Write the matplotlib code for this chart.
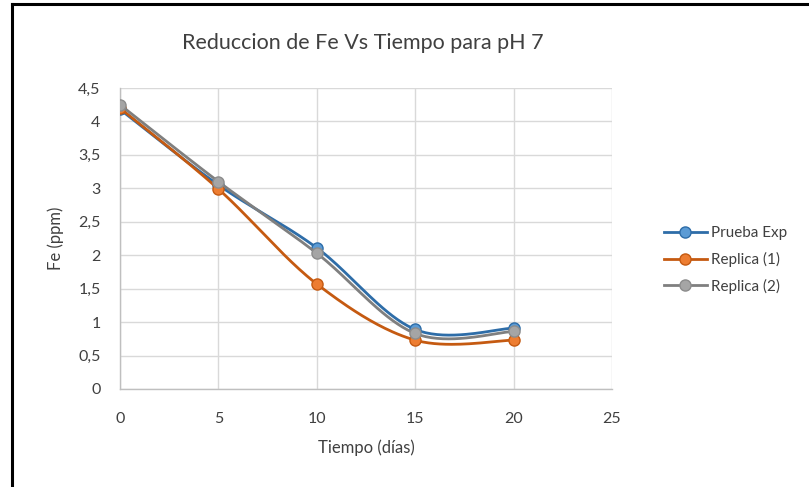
import numpy as np
import matplotlib
matplotlib.use("Agg")
import matplotlib.pyplot as plt
from matplotlib.lines import Line2D

plt.rcParams['font.family'] = ['Lato', 'DejaVu Sans']

tiempo = [0, 5, 10, 15, 20]
prueba_exp = [4.18, 3.05, 2.11, 0.89, 0.91]
replica_1 = [4.20, 2.99, 1.57, 0.73, 0.73]
replica_2 = [4.25, 3.10, 2.03, 0.83, 0.86]
series_names = ["Prueba Exp", "Replica (1)", "Replica (2)"]
x_ticks = [0, 5, 10, 15, 20, 25]
y_ticks = [0, 0.5, 1, 1.5, 2, 2.5, 3, 3.5, 4, 4.5]
y_tick_labels = ["0", "0,5", "1", "1,5", "2", "2,5", "3", "3,5", "4", "4,5"]

line_colors = ["#2E6DA8", "#C55A11", "#7F7F7F"]
marker_colors = ["#5B9BD5", "#ED7D31", "#A5A5A5"]
edge_colors = ["#2E6DA8", "#C55A11", "#8C8C8C"]

fig = plt.figure(figsize=(8.09, 4.87), dpi=100)
ax = fig.add_axes([120/809, 1-389/487, 492/809, 301/487])
ax.set_xlim(0, 25)
ax.set_ylim(0, 4.5)


def smooth(ax, xs, ys, n=40):
    pts = ax.transData.transform(np.column_stack([xs, ys]))
    out = [pts[0]]
    m = len(pts)
    for i in range(m - 1):
        p0 = pts[i - 1] if i > 0 else pts[i]
        p1 = pts[i]
        p2 = pts[i + 1]
        p3 = pts[i + 2] if i + 2 < m else pts[i + 1]
        c1 = p1 + (p2 - p0) / 6.0
        c2 = p2 - (p3 - p1) / 6.0
        t = np.linspace(0, 1, n)[1:, None]
        b = ((1 - t) ** 3) * p1 + 3 * ((1 - t) ** 2) * t * c1 + 3 * (1 - t) * t ** 2 * c2 + t ** 3 * p2
        out.extend(b)
    out = np.array(out)
    data = ax.transData.inverted().transform(out)
    return data[:, 0], data[:, 1]


all_series = [prueba_exp, replica_1, replica_2]
handles = []
for i, (vals, name) in enumerate(zip(all_series, series_names)):
    sx, sy = smooth(ax, tiempo, vals)
    ax.plot(sx, sy, color=line_colors[i], lw=2.0, zorder=3 + i, solid_capstyle='round')
    ax.plot(tiempo, vals, ls='none', marker='o', ms=8, mfc=marker_colors[i],
            mec=edge_colors[i], mew=1.0, zorder=3 + i)
    handles.append(Line2D([], [], color=line_colors[i], lw=2.0, marker='o', ms=8,
                          mfc=marker_colors[i], mec=edge_colors[i], mew=1.0))

ax.set_xticks(x_ticks)
ax.set_yticks(y_ticks)
ax.set_yticklabels(y_tick_labels)
ax.grid(True, color="#D9D9D9", lw=1.0, zorder=0)
ax.set_axisbelow(True)
for s in ["top", "right"]:
    ax.spines[s].set_visible(False)
for s in ["left", "bottom"]:
    ax.spines[s].set_color("#BFBFBF")
    ax.spines[s].set_linewidth(1.0)
ax.tick_params(length=0, labelsize=11.5, colors="#404040")
ax.tick_params(axis='x', pad=16.5)
ax.tick_params(axis='y', pad=14)

ax.set_xlabel("Tiempo (días)", fontsize=12, color="#404040", labelpad=9.5)
ax.set_ylabel("Fe (ppm)", fontsize=12, color="#404040", labelpad=10)

fig.text(363/809, 1-43/487, "Reduccion de Fe Vs Tiempo para pH 7", ha='center', va='center',
         fontsize=15.5, color="#404040")

leg = fig.legend(handles, series_names, loc='center left', bbox_to_anchor=(650/809, 1-260/487),
                 frameon=False, fontsize=11, handlelength=2.8, handletextpad=0.3,
                 labelspacing=0.75, labelcolor="#404040")

# outer border (partial, as in the reference crop)
fig.add_artist(Line2D([12/809, 12/809], [0, 1-4/487], transform=fig.transFigure, color='black', lw=2.2))
fig.add_artist(Line2D([12/809, 1], [1-4/487, 1-4/487], transform=fig.transFigure, color='black', lw=2.2))

fig.savefig("out.png", dpi=100, facecolor='white')
